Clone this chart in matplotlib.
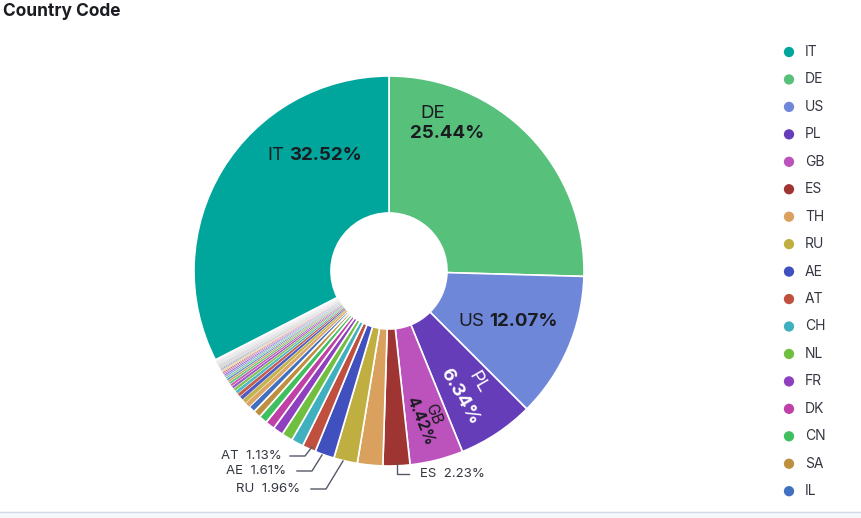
import matplotlib
matplotlib.use("Agg")
import matplotlib.pyplot as plt
import numpy as np
from matplotlib.colors import to_rgb

plt.rcParams['font.family'] = ['Inter', 'DejaVu Sans']

# data (clockwise from 12 o'clock, IT is last so it ends at the top)
names = ["DE", "US", "PL", "GB", "ES", "TH", "RU", "AE", "AT", "CH", "NL",
         "FR", "DK", "CN", "SA", "IL"]
values = [25.44, 12.07, 6.34, 4.42, 2.23, 2.10, 1.96, 1.61, 1.13, 1.00, 0.92,
          0.85, 0.78, 0.70, 0.62, 0.55]
tiny_values = [0.42, 0.38, 0.34, 0.31, 0.28, 0.25, 0.23, 0.21, 0.19, 0.17,
               0.16, 0.15, 0.14, 0.13, 0.12, 0.11, 0.10, 0.09, 0.09, 0.08,
               0.08, 0.07, 0.07, 0.06, 0.06, 0.05, 0.05, 0.05, 0.04, 0.04,
               0.04, 0.03, 0.03, 0.03, 0.02, 0.02, 0.02, 0.02, 0.02]
top_name = "IT"
top_value = 32.52
legend_names = ["IT", "DE", "US", "PL", "GB", "ES", "TH", "RU", "AE", "AT",
                "CH", "NL", "FR", "DK", "CN", "SA", "IL"]

palette = {
    "IT": "#00a69b", "DE": "#57c17b", "US": "#6f87d8", "PL": "#663db8",
    "GB": "#bc52bc", "ES": "#9e3533", "TH": "#daa05d", "RU": "#bfaf40",
    "AE": "#4050bf", "AT": "#bf5040", "CH": "#40afbf", "NL": "#70bf40",
    "FR": "#8f40bf", "DK": "#bf40a7", "CN": "#40bf5f", "SA": "#bf8f40",
    "IL": "#4070bf",
}
cycle = list(palette.values())[1:]

W, H = 862, 518
fig = plt.figure(figsize=(W / 100, H / 100), dpi=100)
ax = fig.add_axes([0, 0, 1, 1])


def P(x, y):
    # pixel coords (top-left origin) -> data coords
    return x, H - y


all_vals = values + tiny_values + [top_value]
colors = [palette[n] for n in names]
for i in range(len(tiny_values)):
    c = np.array(to_rgb(cycle[(i + 5) % len(cycle)]))
    mix = min(0.05 + i * 0.012, 0.45)
    colors.append(tuple(c * (1 - mix) + mix))
colors.append(palette[top_name])

cx, cy = P(389, 271)
R, r_in = 195, 58
wedges, _ = ax.pie(all_vals, colors=colors, startangle=90, counterclock=False,
                   center=(cx, cy), radius=R,
                   wedgeprops=dict(width=R - r_in, edgecolor="white",
                                   linewidth=1.2))
# thin separators on the tiny slices so they keep their colour
for w, v in zip(wedges, all_vals):
    if v < 0.5:
        w.set_linewidth(0.25)
ax.set_xlim(0, W)
ax.set_ylim(0, H)
ax.set_aspect("equal")
ax.axis("off")

dark = "#1a1c21"
fs = 13.5
# in-slice labels
ax.text(*P(284, 155), top_name, ha="right", va="center", fontsize=fs, color=dark)
ax.text(*P(289, 155), f"{top_value:.2f}%", ha="left", va="center", fontsize=fs,
        fontweight="bold", color=dark)
ax.text(*P(433, 113), names[0], ha="center", va="center", fontsize=fs, color=dark)
ax.text(*P(447, 133), f"{values[0]:.2f}%", ha="center", va="center",
        fontsize=fs, fontweight="bold", color=dark)
ax.text(*P(484, 321), names[1], ha="right", va="center", fontsize=fs, color=dark)
ax.text(*P(489, 321), f"{values[1]:.2f}%", ha="left", va="center", fontsize=fs,
        fontweight="bold", color=dark)
ax.text(*P(478, 382), names[2], ha="center", va="center", fontsize=fs,
        color="white", rotation=-60, rotation_mode="anchor")
ax.text(*P(460, 397), f"{values[2]:.2f}%", ha="center", va="center",
        fontsize=fs, fontweight="bold", color="white", rotation=-60,
        rotation_mode="anchor")
ax.text(*P(433, 414), names[3], ha="center", va="center", fontsize=11,
        color=dark, rotation=-68, rotation_mode="anchor")
ax.text(*P(420, 421), f"{values[3]:.2f}%", ha="center", va="center",
        fontsize=11, fontweight="bold", color=dark, rotation=-68,
        rotation_mode="anchor")

# outside labels with leader lines
grey = "#343741"
line_c = "#535966"
outside = {
    "ES": dict(pts=[(397, 463), (397, 474), (409, 474)], txt=(420, 474), ha="left"),
    "AT": dict(pts=[(312, 447), (305, 456), (290, 456)], txt=(282, 456), ha="right"),
    "AE": dict(pts=[(322, 455), (312, 471), (297, 471)], txt=(286, 471), ha="right"),
    "RU": dict(pts=[(343, 461), (326, 489), (311, 489)], txt=(300, 489), ha="right"),
}
for n, o in outside.items():
    v = values[names.index(n)]
    xs, ys = zip(*[P(*p) for p in o["pts"]])
    ax.plot(xs, ys, color=line_c, lw=1)
    ax.text(*P(*o["txt"]), f"{n}  {v:.2f}%", ha=o["ha"], va="center",
            fontsize=9.5, color=grey)

# legend
for i, n in enumerate(legend_names):
    y = 52 + i * 27.45
    ax.scatter(*P(789, y), s=55, color=palette[n], edgecolors="none")
    ax.text(*P(805, y), n, ha="left", va="center", fontsize=10, color=grey)

# title
fig.text(3 / W, 1 - 12 / H, "Country Code", ha="left", va="center",
         fontsize=12.5, fontweight="bold", color=dark)

# bottom strip
ax.axhspan(0, H - 512, color="#f7f8fc", zorder=0)
ax.axhline(H - 512, color="#d3dae6", lw=1)

fig.savefig("out.png", dpi=100)
